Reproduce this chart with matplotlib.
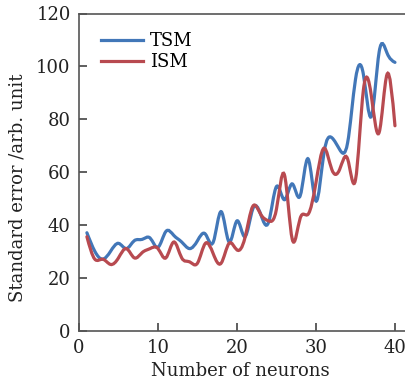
import numpy as np
import matplotlib
matplotlib.use("Agg")
import matplotlib.pyplot as plt
from matplotlib.path import Path
from matplotlib.patches import PathPatch
from matplotlib.lines import Line2D

# ---- data ----
neurons = np.arange(1, 41)
tsm = [37, 30, 27, 30, 33, 31, 34, 34.5, 35, 31.5,
       37.5, 36, 33.5, 31, 34, 36.5, 33.5, 45, 33.5, 41.5,
       35.5, 46, 44, 41, 54.5, 49.5, 55.5, 51, 65, 49,
       67, 73, 68.5, 71, 95, 97, 81, 105.5, 105, 101.5]
ism = [35.5, 27, 27, 25, 27.5, 31, 27.5, 29.5, 31, 31,
       27.5, 33.5, 27.5, 26, 25.5, 33, 29, 25.5, 33, 30.5,
       35, 47, 44, 41.5, 46, 59, 34.5, 42.5, 44, 56,
       69, 61, 61, 65, 57, 91, 89, 75, 97, 77.5]

color_tsm = '#4277b8'
color_ism = '#b84a50'

plt.rcParams['font.family'] = ['DejaVu Serif']


def spline_path(x, y):
    # natural cubic spline written as bezier segments
    x = np.asarray(x, float)
    y = np.asarray(y, float)
    n = len(x)
    h = np.diff(x)
    A = np.zeros((n, n))
    b = np.zeros(n)
    A[0, 0] = A[-1, -1] = 1
    for i in range(1, n - 1):
        A[i, i - 1] = h[i - 1]
        A[i, i] = 2 * (h[i - 1] + h[i])
        A[i, i + 1] = h[i]
        b[i] = 6 * ((y[i + 1] - y[i]) / h[i] - (y[i] - y[i - 1]) / h[i - 1])
    M = np.linalg.solve(A, b)
    d = np.zeros(n)
    for i in range(n - 1):
        d[i] = (y[i + 1] - y[i]) / h[i] - h[i] * (2 * M[i] + M[i + 1]) / 6
    d[-1] = (y[-1] - y[-2]) / h[-1] + h[-1] * (M[-2] + 2 * M[-1]) / 6
    verts = [(x[0], y[0])]
    codes = [Path.MOVETO]
    for i in range(n - 1):
        verts += [(x[i] + h[i] / 3, y[i] + d[i] * h[i] / 3),
                  (x[i + 1] - h[i] / 3, y[i + 1] - d[i + 1] * h[i] / 3),
                  (x[i + 1], y[i + 1])]
        codes += [Path.CURVE4] * 3
    return Path(verts, codes)


fig = plt.figure(figsize=(4.05, 3.85), dpi=100)
ax = fig.add_axes([79 / 405, 1 - 330.5 / 385, 326 / 405, 317 / 385])

for vals, col in [(tsm, color_tsm), (ism, color_ism)]:
    ax.add_patch(PathPatch(spline_path(neurons, vals), facecolor='none',
                           edgecolor=col, lw=2.3, capstyle='round'))

ax.set_xlim(0, 41.27)
ax.set_ylim(0, 120)
ax.set_xticks([0, 10, 20, 30, 40])
ax.set_yticks([0, 20, 40, 60, 80, 100, 120])
ax.spines['right'].set_visible(False)
for s in ax.spines.values():
    s.set_color('#555555')
    s.set_linewidth(1.2)
ax.tick_params(direction='in', length=6, width=1.1, color='#333333',
               labelsize=13, labelcolor='#222222', pad=6)

ax.set_xlabel("Number of neurons", fontsize=13, color='#222222')
ax.set_ylabel("Standard error /arb. unit", fontsize=13, color='#222222')
ax.yaxis.set_label_coords(-0.16, 0.45)
ax.xaxis.set_label_coords(0.494, -0.1)

handles = [Line2D([], [], color=color_tsm, lw=2.3),
           Line2D([], [], color=color_ism, lw=2.3)]
ax.legend(handles, ["TSM", "ISM"], loc='upper left', frameon=False,
          fontsize=13, handlelength=2.3, handletextpad=0.4, labelspacing=0.15,
          borderaxespad=0.3, bbox_to_anchor=(0.03, 0.98))

fig.savefig("out.png", dpi=100)
